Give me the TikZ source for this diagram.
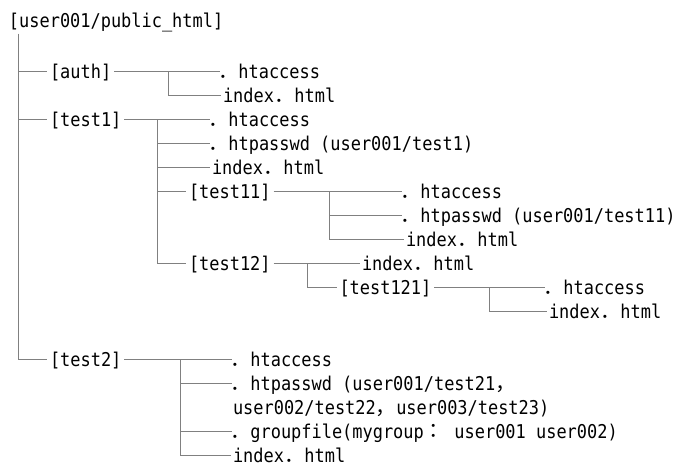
\documentclass[tikz,border=0pt]{standalone}
\usepackage{fontspec}
\setmainfont[FakeStretch=0.892]{DejaVu Sans Mono}
\newfontfamily\cjk[Scale=1.074]{Noto Sans CJK JP}
\newcommand\zp{{\cjk ．}}
\newcommand\zc{{\cjk ，}}
\newcommand\zcol{{\cjk ：}}
\definecolor{linegray}{RGB}{128,128,128}
\begin{document}
\begin{tikzpicture}[x=1pt,y=-1pt,
  lbl/.style={anchor=west, inner sep=0pt, outer sep=0pt, text height=13pt, text depth=0pt,
    font=\fontsize{19}{19}\selectfont, text=black},
  conn/.style={draw=linegray, line width=1pt}]
\useasboundingbox[fill=white] (0,0) rectangle (678,466);
% texts
\node[lbl] (root) at (9,21) {[user001/public\_html]};
\node[lbl] (auth) at (50,71.5) {[auth]};
\node[lbl] (hta1) at (218,71.5) {\zp htaccess};
\node[lbl] (idx1) at (223,95.5) {index\zp html};
\node[lbl] (test1) at (50,119.5) {[test1]};
\node[lbl] (hta2) at (208,119.5) {\zp htaccess};
\node[lbl] (pw1) at (208,143.5) {\zp htpasswd (user001/test1)};
\node[lbl] (idx2) at (212,167.5) {index\zp html};
\node[lbl] (test11) at (189,191.5) {[test11]};
\node[lbl] (hta3) at (400,191.5) {\zp htaccess};
\node[lbl] (pw2) at (400,215.5) {\zp htpasswd (user001/test11)};
\node[lbl] (idx3) at (406,239.5) {index\zp html};
\node[lbl] (test12) at (189,263.5) {[test12]};
\node[lbl] (idx4) at (362,263.5) {index\zp html};
\node[lbl] (test121) at (339.5,287.5) {[test121]};
\node[lbl] (hta4) at (543,287.5) {\zp htaccess};
\node[lbl] (idx5) at (549,311.5) {index\zp html};
\node[lbl] (test2) at (50,359.5) {[test2]};
\node[lbl] (hta5) at (230,359.5) {\zp htaccess};
\node[lbl] (pw3) at (230,383.5) {\zp htpasswd (user001/test21\zc};
\node[lbl] (pw3b) at (233,407.5) {user002/test22\zc user003/test23)};
\node[lbl] (gf) at (230,431.5) {\zp groupfile(mygroup\zcol\ user001 user002)};
\node[lbl] (idx6) at (233,455.5) {index\zp html};
% junctions
\coordinate (m0) at ([xshift=9.5pt,yshift=-6pt]root.south west);
\coordinate (ja) at (168.3,71.5);
\coordinate (j1) at (157,119.5);
\coordinate (j11) at (329.3,191.5);
\coordinate (j12) at (307.3,263.5);
\coordinate (j121) at (489.3,287.5);
\coordinate (j2) at (180,359.5);
% main trunk
\draw[conn] (m0) -- (m0 |- test2.west) -- ([xshift=-3pt]test2.west);
\draw[conn] (m0 |- auth.west) -- ([xshift=-3pt]auth.west);
\draw[conn] (m0 |- test1.west) -- ([xshift=-3pt]test1.west);
% auth
\draw[conn] ([xshift=3pt]auth.east) -- ([xshift=2pt]hta1.west);
\draw[conn] (ja) -- (ja |- idx1.west) -- ([xshift=-2pt]idx1.west);
% test1
\draw[conn] ([xshift=3pt]test1.east) -- ([xshift=2pt]hta2.west);
\draw[conn] (j1) -- (j1 |- test12.west) -- ([xshift=-3pt]test12.west);
\draw[conn] (j1 |- pw1.west) -- ([xshift=2pt]pw1.west);
\draw[conn] (j1 |- idx2.west) -- ([xshift=-2pt]idx2.west);
\draw[conn] (j1 |- test11.west) -- ([xshift=-3pt]test11.west);
% test11
\draw[conn] ([xshift=3pt]test11.east) -- ([xshift=2pt]hta3.west);
\draw[conn] (j11) -- (j11 |- idx3.west) -- ([xshift=-2pt]idx3.west);
\draw[conn] (j11 |- pw2.west) -- ([xshift=2pt]pw2.west);
% test12
\draw[conn] ([xshift=3pt]test12.east) -- ([xshift=-2pt]idx4.west);
\draw[conn] (j12) -- (j12 |- test121.west) -- ([xshift=-3pt]test121.west);
% test121
\draw[conn] ([xshift=3pt]test121.east) -- ([xshift=2pt]hta4.west);
\draw[conn] (j121) -- (j121 |- idx5.west) -- ([xshift=-2pt]idx5.west);
% test2
\draw[conn] ([xshift=3pt]test2.east) -- ([xshift=2pt]hta5.west);
\draw[conn] (j2) -- (j2 |- idx6.west) -- ([xshift=-2pt]idx6.west);
\draw[conn] (j2 |- pw3.west) -- ([xshift=2pt]pw3.west);
\draw[conn] (j2 |- gf.west) -- ([xshift=2pt]gf.west);
\end{tikzpicture}
\end{document}
